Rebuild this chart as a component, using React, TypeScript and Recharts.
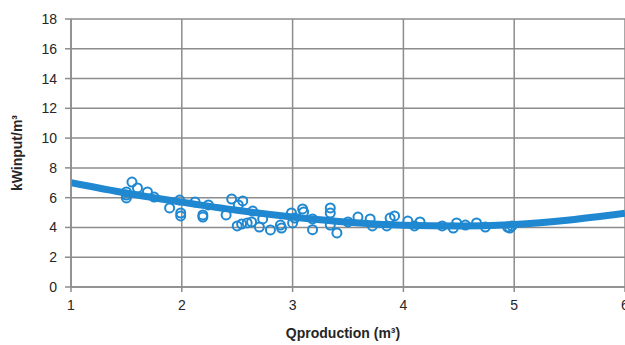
import React from "react";
import { ComposedChart, Scatter, Line, XAxis, YAxis, CartesianGrid, Label } from "recharts";

// measured points (Qproduction, kWinput/m3)
const qProduction: number[] = [
  1.5, 1.5, 1.5, 1.55, 1.6, 1.69, 1.75, 1.89, 1.98, 1.99, 1.99, 2.12, 2.19, 2.19, 2.24,
  2.4, 2.45, 2.51, 2.55, 2.5, 2.54, 2.59, 2.63, 2.64, 2.7, 2.73, 2.8, 2.89, 2.9, 2.99,
  3.0, 3.02, 3.09, 3.1, 3.18, 3.18, 3.34, 3.34, 3.34, 3.4, 3.5, 3.59, 3.7, 3.72, 3.85,
  3.88, 3.92, 4.04, 4.1, 4.15, 4.35, 4.45, 4.48, 4.56, 4.66, 4.74, 4.94, 4.98, 4.96
];
const kwInput: number[] = [
  6.38, 5.98, 6.18, 7.05, 6.65, 6.38, 6.04, 5.31, 5.84, 4.97, 4.77, 5.71, 4.84, 4.7, 5.51,
  4.84, 5.91, 5.51, 5.78, 4.1, 4.23, 4.3, 4.37, 5.1, 4.03, 4.57, 3.83, 4.16, 3.96, 4.97,
  4.3, 4.63, 5.24, 5.04, 4.57, 3.85, 5.31, 4.97, 4.16, 3.63, 4.37, 4.7, 4.57, 4.1, 4.1,
  4.63, 4.77, 4.43, 4.1, 4.37, 4.1, 3.96, 4.3, 4.16, 4.3, 4.03, 4.03, 4.1, 3.96
];

// trend line
const trendX: number[] = [1, 1.5, 2, 2.5, 3, 3.5, 4, 4.5, 5, 5.5, 6];
const trendY: number[] = [7.0, 6.3, 5.7, 5.15, 4.7, 4.35, 4.15, 4.1, 4.2, 4.5, 4.95];

const xTicks: number[] = [1, 2, 3, 4, 5, 6];
const yTicks: number[] = [0, 2, 4, 6, 8, 10, 12, 14, 16, 18];

const points = qProduction.map((x, i) => ({ x, y: kwInput[i] }));
const trend = trendX.map((x, i) => ({ x, y: trendY[i] }));

const BLUE = "#1f88d0";
const GRID = "#8c8c8c";
const FONT = "'Liberation Sans', Arial, sans-serif";

const HollowDot = (props: any) => (
  <circle cx={props.cx} cy={props.cy} r={4.5} fill="none" stroke={BLUE} strokeWidth={2} />
);

const YTitle = (props: any) => {
  const vb = props.viewBox || { x: 0, y: 0, height: 0 };
  const cx = vb.x + 17;
  const cy = vb.y + vb.height / 2;
  return (
    <text x={cx} y={cy} transform={`rotate(-90 ${cx} ${cy})`} textAnchor="middle"
      dominantBaseline="central" fontFamily={FONT} fontSize={14} fontWeight="bold" fill="#262626">
      kWinput/m³
    </text>
  );
};

const XTitle = (props: any) => {
  const vb = props.viewBox || { x: 0, y: 0, width: 0 };
  return (
    <text x={343} y={vb.y + 51} textAnchor="middle" fontFamily={FONT} fontSize={14}
      fontWeight="bold" fill="#262626">
      Qproduction (m³)
    </text>
  );
};

const App: React.FC = () => (
  <div style={{ position: "absolute", left: 0, top: 0, width: 625, height: 345, overflow: "hidden", background: "#fff" }}>
    <ComposedChart width={660} height={345} margin={{ top: 19, right: 35, bottom: 0, left: 0 }}>
      <CartesianGrid stroke={GRID} strokeWidth={1.5} />
      <XAxis type="number" dataKey="x" domain={[1, 6]} ticks={xTicks} allowDataOverflow
        height={58} stroke={GRID} strokeWidth={1.5} tickSize={5} tickMargin={8}
        tick={{ fill: "#262626", fontSize: 14, fontFamily: FONT }}>
        <Label content={<XTitle />} />
      </XAxis>
      <YAxis type="number" domain={[0, 18]} ticks={yTicks} allowDataOverflow
        width={71} stroke={GRID} strokeWidth={1.5} tickSize={6} tickMargin={8}
        tick={{ fill: "#262626", fontSize: 14, fontFamily: FONT }}>
        <Label content={<YTitle />} />
      </YAxis>
      <Scatter data={points} dataKey="y" shape={<HollowDot />} isAnimationActive={false} />
      <Line data={trend} dataKey="y" type="monotone" stroke={BLUE} strokeWidth={7}
        dot={false} activeDot={false} isAnimationActive={false} />
    </ComposedChart>
  </div>
);

export default App;
